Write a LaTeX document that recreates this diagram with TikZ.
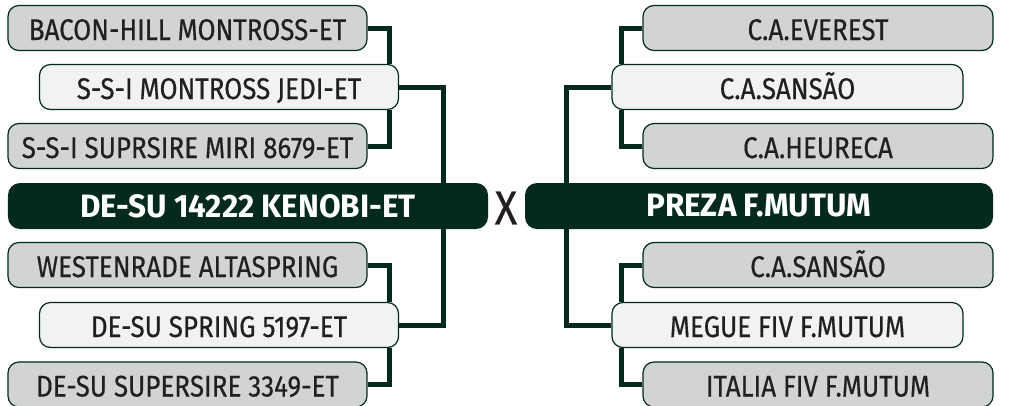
\documentclass[tikz,border=0pt]{standalone}
\usepackage{fontspec}
\setmainfont{Fira Sans}[FakeStretch=0.87,FakeBold=0.4]
\newfontfamily\negrito{Fira Sans}[FakeStretch=0.97]
\usetikzlibrary{positioning}

\definecolor{verde}{RGB}{3,42,27}
\definecolor{cinza}{RGB}{209,211,212}
\definecolor{claro}{RGB}{241,242,242}
\definecolor{texto}{RGB}{35,31,32}

\newcommand{\AvoEsq}[4]{
\node[Avo] (#1) at (187.5,#3) {#2};
\draw[Liga] (#1.east) -| ([xshift=-10bp]#4);
}
\newcommand{\AvoDir}[4]{
\node[Avo,minimum width=350bp] (#1) at (818,#3) {#2};
\draw[Liga] (#1.west) -| ([xshift=10bp]#4);
}
\tikzset{every node/.style={font=\fontsize{30}{30}\selectfont, text=texto, inner sep=0pt}}
\tikzset{Avo/.style={draw=verde,fill=cinza,line width=1.2bp,rounded corners=11bp,minimum width=359bp,minimum height=45bp,text height=24bp,text depth=0bp}}
\tikzset{Pai/.style={Avo,fill=claro}}
\tikzset{Animal/.style={fill=verde,rounded corners=12bp,minimum height=46bp,text=white,font=\negrito\fontsize{32.5}{32.5}\selectfont\bfseries}}
\tikzset{Liga/.style={draw=verde,line width=5bp}}

\begin{document}
\begin{tikzpicture}[x=1bp,y=-1bp]
\useasboundingbox (0,0) rectangle (1013,405);

\node[Animal,minimum width=480bp] (Touro) at (248,206) {DE-SU 14222 KENOBI-ET};
\node[Animal,minimum width=468bp] (Vaca) at (759,206) {PREZA F.MUTUM};
\node[font=\fontsize{48}{48}\selectfont] (X) at (506,208) {X};

% lado do pai
\node[Pai] (Pai) at (219,87) {S-S-I MONTROSS JEDI-ET};
\draw[Liga] (Pai.east) -| ([xshift=-45bp]Touro.north east);
\AvoEsq{AvoP}{BACON-HILL MONTROSS-ET}{28}{Pai.north east}
\AvoEsq{AvoaP}{S-S-I SUPRSIRE MIRI 8679-ET}{146}{Pai.south east}

\node[Pai] (Mae) at (219,325) {DE-SU SPRING 5197-ET};
\draw[Liga] (Mae.east) -| ([xshift=-45bp]Touro.south east);
\AvoEsq{AvoM}{WESTENRADE ALTASPRING}{265}{Mae.north east}
\AvoEsq{AvoaM}{DE-SU SUPERSIRE 3349-ET}{384.5}{Mae.south east}

% lado da mae
\node[Pai,minimum width=351bp] (PaiV) at (787.5,87) {C.A.SANS\~AO};
\draw[Liga] (PaiV.west) -| ([xshift=42bp]Vaca.north west);
\AvoDir{AvoPV}{C.A.EVEREST}{28}{PaiV.north west}
\AvoDir{AvoaPV}{C.A.HEURECA}{146}{PaiV.south west}

\node[Pai,minimum width=351bp] (MaeV) at (787.5,325) {MEGUE FIV F.MUTUM};
\draw[Liga] (MaeV.west) -| ([xshift=42bp]Vaca.south west);
\AvoDir{AvoMV}{C.A.SANS\~AO}{265}{MaeV.north west}
\AvoDir{AvoaMV}{ITALIA FIV F.MUTUM}{384.5}{MaeV.south west}

\end{tikzpicture}
\end{document}
